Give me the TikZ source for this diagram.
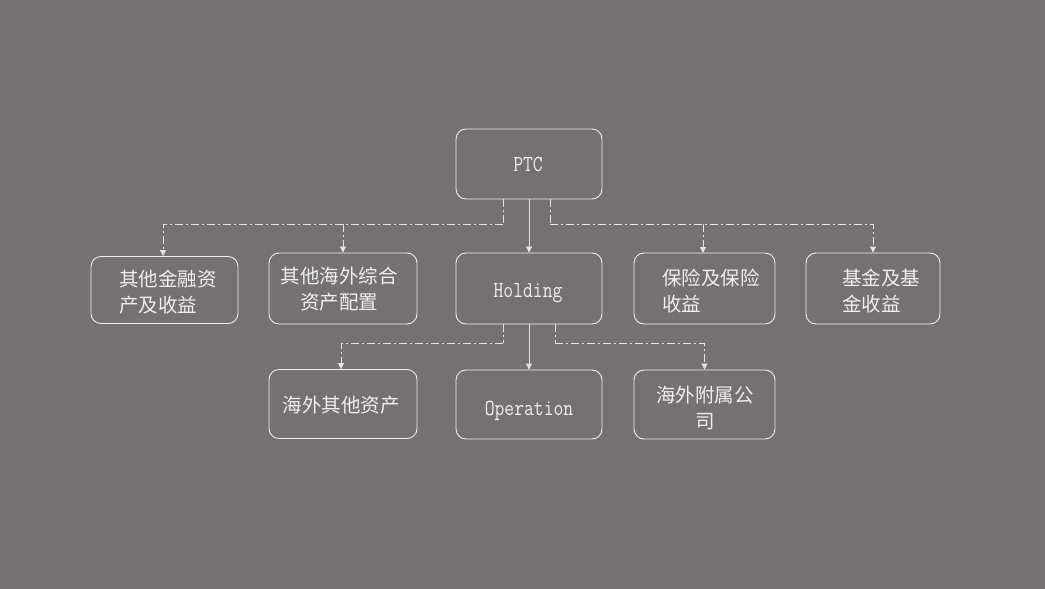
\documentclass[tikz,border=0pt]{standalone}
\usepackage{fontspec}
\newfontfamily\cjk{Noto Sans CJK SC}
\newfontfamily\monof[FakeStretch=0.83]{Latin Modern Mono}
\usetikzlibrary{arrows.meta}
\definecolor{bgc}{RGB}{117,113,114}
\definecolor{fgc}{RGB}{238,238,238}
\definecolor{lnc}{RGB}{228,228,228}
\tikzset{
  box/.style={draw=fgc, line width=0.9pt, rounded corners=10pt, minimum width=146pt, minimum height=70pt, inner sep=0pt},
  cn/.style={text=fgc, font=\cjk\fontsize{19.5}{26}\selectfont, inner sep=0pt},
  en/.style={text=fgc, font=\monof\fontsize{23}{26}\selectfont, inner sep=0pt, anchor=base},
  solidarr/.style={draw=lnc, line width=0.9pt, -{Triangle[length=6pt,width=6pt]}},
  dasharr/.style={draw=lnc, line width=0.9pt, dash pattern=on 8pt off 3pt on 2pt off 3pt, -{Triangle[length=6pt,width=6pt]}},
  dashln/.style={draw=lnc, line width=0.9pt, dash pattern=on 8pt off 3pt on 2pt off 3pt}
}
\begin{document}
\begin{tikzpicture}[x=1pt,y=-1pt]
\fill[bgc] (0,0) rectangle (1045,589);
\useasboundingbox (0,0) rectangle (1045,589);
% boxes
\node[box] (ptc) at (529,164) {};
\node[en] (ptct) at (528,171) {PTC};
\node[box, minimum width=147pt, minimum height=67pt] (b1) at (164.5,290) {};
\node[cn, align=left] (b1t) at (168,292) {其他金融资\\产及收益};
\node[box, minimum width=148pt, minimum height=71pt] (b2) at (343,288.5) {};
\node[cn, align=center] (b2t) at (339,289) {其他海外综合\\资产配置};
\node[box, minimum width=146pt, minimum height=71pt] (hold) at (529,288.5) {};
\node[en] (holdt) at (528,297) {Holding};
\node[box, minimum width=141pt, minimum height=71pt] (b4) at (704.5,288.5) {};
\node[cn, align=left] (b4t) at (711,291.5) {保险及保险\\收益};
\node[box, minimum width=134pt, minimum height=71pt] (b5) at (873,288.5) {};
\node[cn, align=left] (b5t) at (881,291) {基金及基\\金收益};
\node[box, minimum width=148pt, minimum height=69pt] (b7) at (343,404) {};
\node[cn] (b7t) at (341,405) {海外其他资产};
\node[box, minimum width=146pt, minimum height=69pt] (op) at (529,404.5) {};
\node[en] (opt) at (529,415) {Operation};
\node[box, minimum width=141pt, minimum height=69pt] (b8) at (704.5,404.5) {};
\node[cn, align=center] (b8t) at (705,408.5) {海外附属公\\司};
% junction coordinates
\coordinate (pl) at (503,224);
\coordinate (pr) at (550,224);
\coordinate (hl) at (503,343);
\coordinate (hr) at (555,343);
% PTC connectors
\draw[solidarr] (ptc.south) -- (hold.north);
\draw[dashln] (ptc.south -| pl) -- (pl);
\draw[dasharr] (pl) -| ([xshift=-1.5pt]b1.north);
\draw[dasharr] (pl -| b2.north) -- (b2.north);
\draw[dashln] (pl) -- (pl -| b2.north);
\draw[dashln] (ptc.south -| pr) -- (pr);
\draw[dasharr] (pr) -| (b5.north);
\draw[dasharr] (pr -| 703,0) -- (703,253);
% Holding connectors
\draw[solidarr] (hold.south) -- (op.north);
\draw[dashln] (hold.south -| hl) -- (hl);
\draw[dasharr] (hl) -| ([xshift=-2pt]b7.north);
\draw[dashln] (hold.south -| hr) -- (hr);
\draw[dasharr] (hr) -| (b8.north);
\end{tikzpicture}
\end{document}
